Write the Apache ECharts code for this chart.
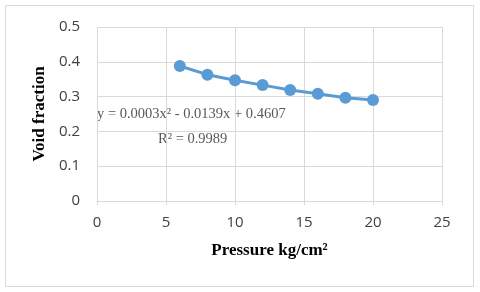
<!DOCTYPE html>
<html><head><meta charset="utf-8">
<script src="https://cdn.jsdelivr.net/npm/echarts@6/dist/echarts.min.js"></script>
<style>html,body{margin:0;padding:0;background:#fff}#c{width:480px;height:292px}</style>
</head><body><div id="c"></div>
<script>
var pressure = [6, 8, 10, 12, 14, 16, 18, 20];
var voidFraction = [0.388, 0.363, 0.347, 0.333, 0.319, 0.308, 0.297, 0.290];
var equationText = 'y = 0.0003x² - 0.0139x + 0.4607';
var r2Text = 'R² = 0.9989';

var chart = echarts.init(document.getElementById('c'), null, {renderer: 'canvas'});
var axisLabelStyle = {color: '#404040', fontSize: 15, fontFamily: 'Open Sans, Liberation Sans, sans-serif'};
chart.setOption({
  animation: false,
  backgroundColor: '#fff',
  grid: {left: 97, right: 38, top: 27, bottom: 91, containLabel: false},
  xAxis: {
    type: 'value', min: 0, max: 25, interval: 5,
    name: 'Pressure kg/cm²', nameLocation: 'middle', nameGap: 41,
    nameTextStyle: {fontFamily: 'Liberation Serif, serif', fontWeight: 'bold', fontSize: 17, color: '#000'},
    axisLine: {show: true, lineStyle: {color: '#d9d9d9', width: 1}},
    axisTick: {show: true, length: 4, lineStyle: {color: '#d9d9d9'}},
    axisLabel: Object.assign({margin: 14}, axisLabelStyle),
    splitLine: {show: true, lineStyle: {color: '#d9d9d9', width: 1}}
  },
  yAxis: {
    type: 'value', min: 0, max: 0.5, interval: 0.1,
    name: 'Void fraction', nameLocation: 'middle', nameGap: 47, nameRotate: 90,
    nameTextStyle: {fontFamily: 'Liberation Serif, serif', fontWeight: 'bold', fontSize: 17, color: '#000'},
    axisLine: {show: false},
    axisTick: {show: false},
    axisLabel: Object.assign({margin: 17, formatter: function(v){return String(+v.toFixed(1));}}, axisLabelStyle),
    splitLine: {show: true, lineStyle: {color: '#d9d9d9', width: 1}}
  },
  series: [{
    type: 'line',
    data: pressure.map(function(x, i){return [x, voidFraction[i]];}),
    symbol: 'circle', symbolSize: 12,
    itemStyle: {color: '#5b9bd5'},
    lineStyle: {color: '#5b9bd5', width: 3}
  }],
  graphic: [
    {type: 'rect', shape: {x: 5.5, y: 5.5, width: 468, height: 281}, style: {fill: 'none', stroke: '#d9d9d9', lineWidth: 1}, silent: true, z: -1},
    {type: 'text', left: 97, top: 107, style: {text: equationText, fill: '#595959', font: '14.5px "Liberation Serif", serif'}},
    {type: 'text', left: 158, top: 132, style: {text: r2Text, fill: '#595959', font: '14.5px "Liberation Serif", serif'}}
  ]
});
</script></body></html>
